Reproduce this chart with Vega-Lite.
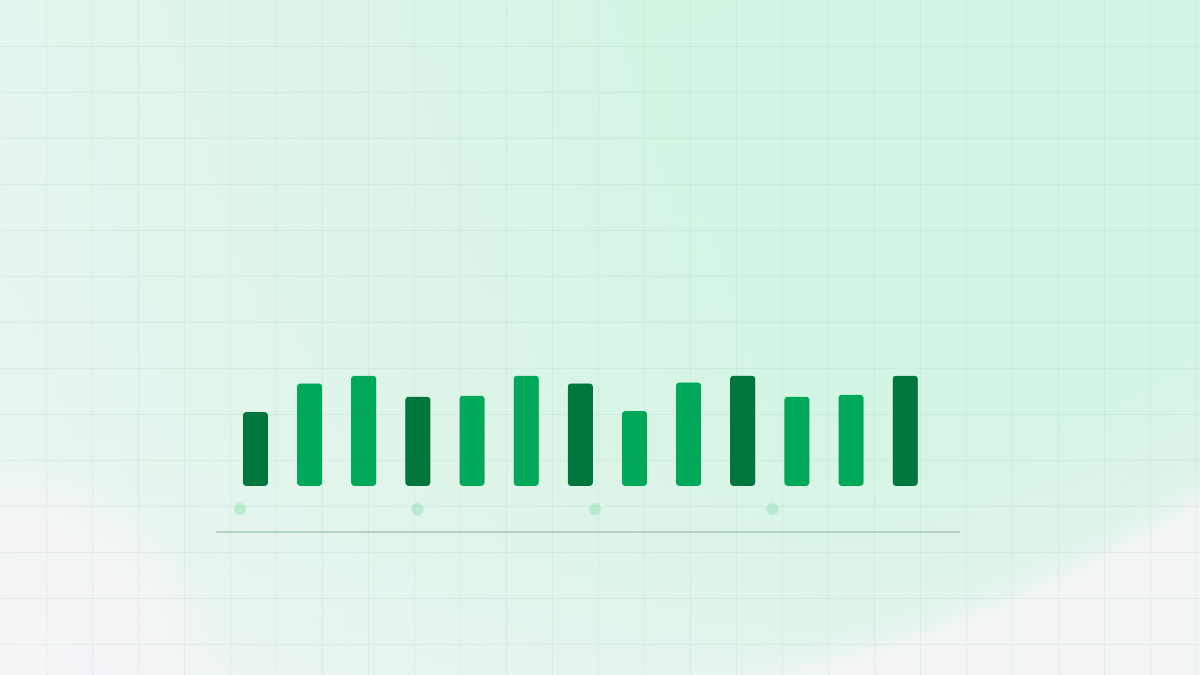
{
  "$schema": "https://vega.github.io/schema/vega-lite/v6.json",
  "width": 1200,
  "height": 675,
  "autosize": {"type": "none"},
  "padding": 0,
  "background": "#f4f5f7",
  "config": {"view": {"stroke": null}},
  "datasets": {
    "bars": [
      {"slot": 1, "value": 67, "tone": "dark"},
      {"slot": 2, "value": 93, "tone": "light"},
      {"slot": 3, "value": 100, "tone": "light"},
      {"slot": 4, "value": 81, "tone": "dark"},
      {"slot": 5, "value": 82, "tone": "light"},
      {"slot": 6, "value": 100, "tone": "light"},
      {"slot": 7, "value": 93, "tone": "dark"},
      {"slot": 8, "value": 68, "tone": "light"},
      {"slot": 9, "value": 94, "tone": "light"},
      {"slot": 10, "value": 100, "tone": "dark"},
      {"slot": 11, "value": 81, "tone": "light"},
      {"slot": 12, "value": 83, "tone": "light"},
      {"slot": 13, "value": 100, "tone": "dark"}
    ],
    "labels": [{"tick": 0}, {"tick": 1}, {"tick": 2}, {"tick": 3}],
    "one": [{"k": 0}]
  },
  "layer": [
    {
      "data": {"name": "one"},
      "mark": {
        "type": "rect",
        "color": {
          "gradient": "radial",
          "x1": 0.398, "y1": -0.31, "r1": 0,
          "x2": 0.398, "y2": -0.31, "r2": 1.13,
          "stops": [
            {"offset": 0, "color": "#d2f5e1"},
            {"offset": 0.9, "color": "#d5f5e4"},
            {"offset": 0.97, "color": "#dbf4e7"},
            {"offset": 0.985, "color": "#e3f4ec"},
            {"offset": 0.995, "color": "#f0f5f3"},
            {"offset": 1, "color": "#f4f5f7"}
          ]
        }
      },
      "encoding": {}
    },
    {
      "data": {"name": "one"},
      "mark": {
        "type": "rect",
        "color": {
          "gradient": "linear",
          "x1": 0, "y1": 0.4, "x2": 0.6, "y2": 0.3,
          "stops": [
            {"offset": 0, "color": "rgba(244,245,247,0.55)"},
            {"offset": 1, "color": "rgba(244,245,247,0)"}
          ]
        }
      },
      "encoding": {}
    },
    {
      "data": {"name": "one"},
      "mark": {
        "type": "rect",
        "color": {
          "gradient": "linear",
          "x1": 0.5, "y1": 0.6, "x2": 0.5, "y2": 1,
          "stops": [
            {"offset": 0, "color": "rgba(244,245,247,0)"},
            {"offset": 1, "color": "rgba(244,245,247,0.28)"}
          ]
        }
      },
      "encoding": {}
    },
    {
      "data": {"name": "one"},
      "mark": {
        "type": "rect",
        "color": {
          "gradient": "radial",
          "x1": 0, "y1": 0.781, "r1": 0,
          "x2": 0, "y2": 0.781, "r2": 0.19,
          "stops": [
            {"offset": 0, "color": "rgba(244,245,247,1)"},
            {"offset": 0.7, "color": "rgba(244,245,247,0.9)"},
            {"offset": 1, "color": "rgba(244,245,247,0)"}
          ]
        }
      },
      "encoding": {}
    },
    {
      "data": {"name": "one"},
      "mark": {"type": "point", "opacity": 0},
      "encoding": {
        "x": {
          "datum": 0,
          "type": "quantitative",
          "scale": {"domain": [0, 26.087], "nice": false, "zero": false},
          "axis": {
            "values": [1, 2, 3, 4, 5, 6, 7, 8, 9, 10, 11, 12, 13, 14, 15, 16, 17, 18, 19, 20, 21, 22, 23, 24, 25, 26],
            "grid": true, "labels": false, "ticks": false, "domain": false, "title": null,
            "gridColor": "#4f7d64", "gridOpacity": 0.07, "gridWidth": 1, "zindex": 1
          }
        },
        "y": {
          "datum": 0,
          "type": "quantitative",
          "scale": {"domain": [0, 14.674], "nice": false, "zero": false, "reverse": true},
          "axis": {
            "values": [1, 2, 3, 4, 5, 6, 7, 8, 9, 10, 11, 12, 13, 14],
            "grid": true, "labels": false, "ticks": false, "domain": false, "title": null,
            "gridColor": "#4f7d64", "gridOpacity": 0.07, "gridWidth": 1, "zindex": 1
          }
        }
      }
    },
    {
      "layer": [
        {
          "data": {"name": "bars"},
          "mark": {"type": "bar", "cornerRadius": 4, "width": 25.5},
          "encoding": {
            "x": {
              "field": "slot", "type": "quantitative",
              "scale": {"domain": [-3.625, 18.353], "nice": false, "zero": false},
              "axis": null
            },
            "y": {
              "field": "value", "type": "quantitative",
              "scale": {"domain": [-171, 440], "nice": false, "zero": false},
              "axis": null
            },
            "color": {
              "field": "tone", "type": "nominal",
              "scale": {"domain": ["dark", "light"], "range": ["#00763c", "#00a859"]},
              "legend": null
            }
          }
        },
        {
          "layer": [
            {
              "data": {"name": "labels"},
              "mark": {"type": "circle", "size": 150, "color": "#b9ebd1", "opacity": 1},
              "encoding": {
                "x": {
                  "field": "tick", "type": "quantitative",
                  "scale": {"domain": [-1.352, 5.408], "nice": false, "zero": false},
                  "axis": null
                },
                "y": {"datum": -20.8, "type": "quantitative"}
              }
            },
            {
              "data": {"name": "one"},
              "mark": {"type": "rule", "color": "#a7c6b3", "strokeWidth": 1.5},
              "encoding": {
                "x": {"datum": -0.135, "type": "quantitative"},
                "x2": {"datum": 4.056},
                "y": {"datum": -41.6, "type": "quantitative"}
              }
            }
          ]
        }
      ],
      "resolve": {"scale": {"x": "independent"}}
    }
  ],
  "resolve": {"scale": {"x": "independent", "y": "independent"}}
}
